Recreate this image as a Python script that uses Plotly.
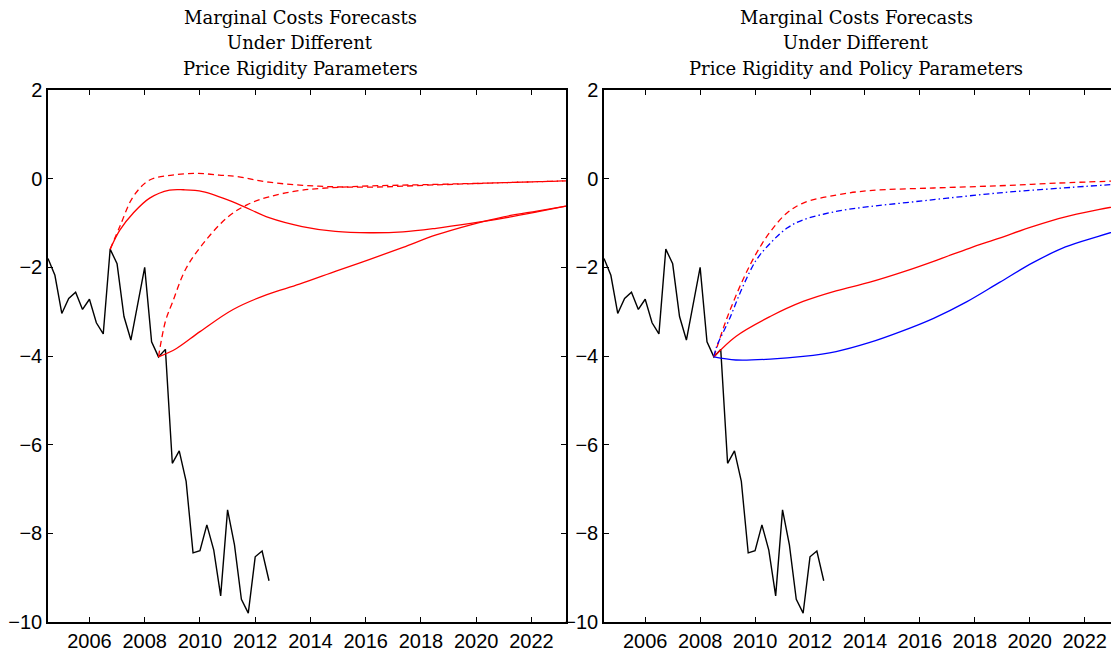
import plotly.graph_objects as go

# ---------------- data ----------------
hist_t = [2004.5, 2004.75, 2005.0, 2005.25, 2005.5, 2005.75, 2006.0, 2006.25, 2006.5, 2006.75,
          2007.0, 2007.25, 2007.5, 2007.75, 2008.0, 2008.25, 2008.5, 2008.75, 2009.0, 2009.25,
          2009.5, 2009.75, 2010.0, 2010.25, 2010.5, 2010.75, 2011.0, 2011.25, 2011.5, 2011.75,
          2012.0, 2012.25, 2012.5]
hist_v = [-1.80, -2.18, -3.04, -2.70, -2.56, -2.95, -2.72, -3.25, -3.50, -1.59,
          -1.92, -3.11, -3.64, -2.83, -2.00, -3.68, -4.02, -3.85, -6.42, -6.14,
          -6.83, -8.44, -8.39, -7.81, -8.38, -9.41, -7.47, -8.26, -9.49, -9.80,
          -8.53, -8.40, -9.07]

# left panel: forecasts from 2006.75
a_solid_t = [2006.75, 2007.1, 2007.58, 2008.18, 2008.9, 2009.4, 2010.1, 2011.3, 2012.5, 2013.7,
             2014.9, 2016.15, 2017.35, 2018.55, 2019.8, 2021.0, 2022.2, 2023.25]
a_solid_v = [-1.59, -1.16, -0.78, -0.44, -0.26, -0.25, -0.29, -0.55, -0.88, -1.08,
             -1.19, -1.22, -1.20, -1.12, -1.01, -0.89, -0.75, -0.62]
a_dash_t = [2006.75, 2007.1, 2007.58, 2008.18, 2009.0, 2009.9, 2010.7, 2011.3, 2012.5, 2014.3,
            2016.15, 2018.55, 2021.0, 2023.25]
a_dash_v = [-1.59, -1.08, -0.41, -0.03, 0.08, 0.12, 0.08, 0.05, -0.08, -0.17,
            -0.19, -0.14, -0.09, -0.05]

# left panel: forecasts from 2008.5
b_solid_t = [2008.5, 2009.15, 2010.0, 2011.2, 2012.4, 2013.6, 2014.95, 2016.15, 2017.35, 2018.55,
             2019.8, 2021.0, 2022.2, 2023.25]
b_solid_v = [-4.02, -3.83, -3.45, -2.95, -2.62, -2.38, -2.08, -1.82, -1.55, -1.27,
             -1.04, -0.86, -0.73, -0.62]
b_dash_t = [2008.5, 2008.75, 2009.0, 2009.5, 2010.2, 2011.0, 2011.7, 2012.5, 2013.7, 2015.5,
            2018.5, 2021.0, 2023.25]
b_dash_v = [-4.02, -3.22, -2.80, -2.02, -1.40, -0.87, -0.59, -0.41, -0.26, -0.18,
            -0.13, -0.09, -0.05]

# right panel: forecasts from 2008.5
c_red_dash_t = [2008.5, 2008.95, 2009.55, 2010.05, 2010.55, 2011.15, 2011.75, 2012.95, 2014.15, 2016.5,
                2018.9, 2021.0, 2023.25]
c_red_dash_v = [-4.02, -3.19, -2.29, -1.68, -1.20, -0.78, -0.55, -0.37, -0.27, -0.21,
                -0.16, -0.10, -0.05]
c_blue_dd_t = [2008.5, 2008.6, 2009.05, 2009.55, 2010.05, 2010.55, 2011.15, 2011.75, 2012.95, 2014.15,
               2015.5, 2017.0, 2018.9, 2021.0, 2023.25]
c_blue_dd_v = [-4.02, -3.79, -3.19, -2.44, -1.83, -1.46, -1.12, -0.93, -0.74, -0.63,
               -0.54, -0.44, -0.32, -0.22, -0.12]
c_red_solid_t = [2008.5, 2009.3, 2010.55, 2011.75, 2012.95, 2014.15, 2015.5, 2016.7, 2017.8, 2018.9,
                 2020.1, 2021.3, 2022.5, 2023.25]
c_red_solid_v = [-4.02, -3.56, -3.11, -2.77, -2.53, -2.34, -2.08, -1.82, -1.57, -1.34,
                 -1.08, -0.86, -0.70, -0.61]
c_blue_solid_t = [2008.5, 2009.3, 2010.55, 2011.75, 2012.95, 2014.15, 2015.3, 2016.5, 2017.7, 2018.9,
                  2020.1, 2021.3, 2022.5, 2023.25]
c_blue_solid_v = [-4.02, -4.09, -4.07, -4.01, -3.90, -3.70, -3.45, -3.15, -2.78, -2.34,
                  -1.90, -1.54, -1.30, -1.16]

x_ticks = [2006, 2008, 2010, 2012, 2014, 2016, 2018, 2020, 2022]
y_ticks = [-10, -8, -6, -4, -2, 0, 2]
x_range = [2004.5, 2023.25]
y_range = [-10, 2]

title_left = ["Marginal Costs Forecasts", "Under Different", "Price Rigidity Parameters"]
title_right = ["Marginal Costs Forecasts", "Under Different", "Price Rigidity and Policy Parameters"]

# ---------------- figure ----------------
RED = "#ff0000"
BLUE = "#0000ff"
DASH = "6px,4px"
DASHDOT = "6px,3px,1.5px,3px"
LW = 1.3

fig = go.Figure()


def add_line(t, v, color, dash, xa, ya, shape="spline", width=LW):
    fig.add_trace(go.Scatter(x=t, y=v, mode="lines", xaxis=xa, yaxis=ya,
                             line=dict(color=color, dash=dash, width=width, shape=shape),
                             hoverinfo="skip", showlegend=False))


# left panel
add_line(hist_t, hist_v, "black", "solid", "x", "y", shape="linear", width=1.4)
add_line(a_solid_t, a_solid_v, RED, "solid", "x", "y")
add_line(a_dash_t, a_dash_v, RED, DASH, "x", "y")
add_line(b_solid_t, b_solid_v, RED, "solid", "x", "y")
add_line(b_dash_t, b_dash_v, RED, DASH, "x", "y")

# right panel
add_line(hist_t, hist_v, "black", "solid", "x2", "y2", shape="linear", width=1.4)
add_line(c_red_dash_t, c_red_dash_v, RED, DASH, "x2", "y2")
add_line(c_blue_dd_t, c_blue_dd_v, BLUE, DASHDOT, "x2", "y2")
add_line(c_red_solid_t, c_red_solid_v, RED, "solid", "x2", "y2")
add_line(c_blue_solid_t, c_blue_solid_v, BLUE, "solid", "x2", "y2")

# page has an 8px body margin, so the figure is drawn 8px smaller and offset
OFF = 8
W, H = 1119 - OFF, 656 - OFF
ML, MR, MT, MB = 48 - OFF, 0, 90 - OFF, 656 - 622
pw = W - ML - MR
ph = H - MT - MB

tick_font = dict(family="Liberation Sans Narrow, Arial Narrow, Liberation Sans, Arial", size=20, color="black")
axis_common = dict(showgrid=False, zeroline=False, showline=True, linecolor="black", linewidth=1.5,
                   ticks="inside", ticklen=5, tickwidth=1, tickcolor="black", tickfont=tick_font)

fig.update_layout(
    width=W, height=H,
    margin=dict(l=ML, r=MR, t=MT, b=MB, autoexpand=False),
    paper_bgcolor="white", plot_bgcolor="white",
    showlegend=False,
    xaxis=dict(domain=[0, (566 - OFF - ML) / pw], range=x_range, tickmode="array", tickvals=x_ticks,
               anchor="y", mirror="ticks", **axis_common),
    yaxis=dict(domain=[0, 1], range=y_range, tickmode="array", tickvals=y_ticks,
               anchor="x", mirror="ticks", **axis_common),
    xaxis2=dict(domain=[(604 - OFF - ML) / pw, 1.0], range=x_range, tickmode="array", tickvals=x_ticks,
                anchor="y2", mirror="ticks", **axis_common),
    yaxis2=dict(domain=[0, 1], range=y_range, tickmode="array", tickvals=y_ticks,
                anchor="x2", mirror=False, **axis_common),
)

title_font = dict(family="DejaVu Serif, Liberation Serif, serif", size=18, color="black")
line_px = [18, 43, 68]
for cx, lines in ((300, title_left), (856, title_right)):
    for ly, txt in zip(line_px, lines):
        fig.add_annotation(text=txt, xref="paper", yref="paper",
                           x=(cx - OFF - ML) / pw, y=(H - MB - (ly - OFF)) / ph,
                           xanchor="center", yanchor="middle", showarrow=False, font=title_font)

fig.write_html("out.html")
